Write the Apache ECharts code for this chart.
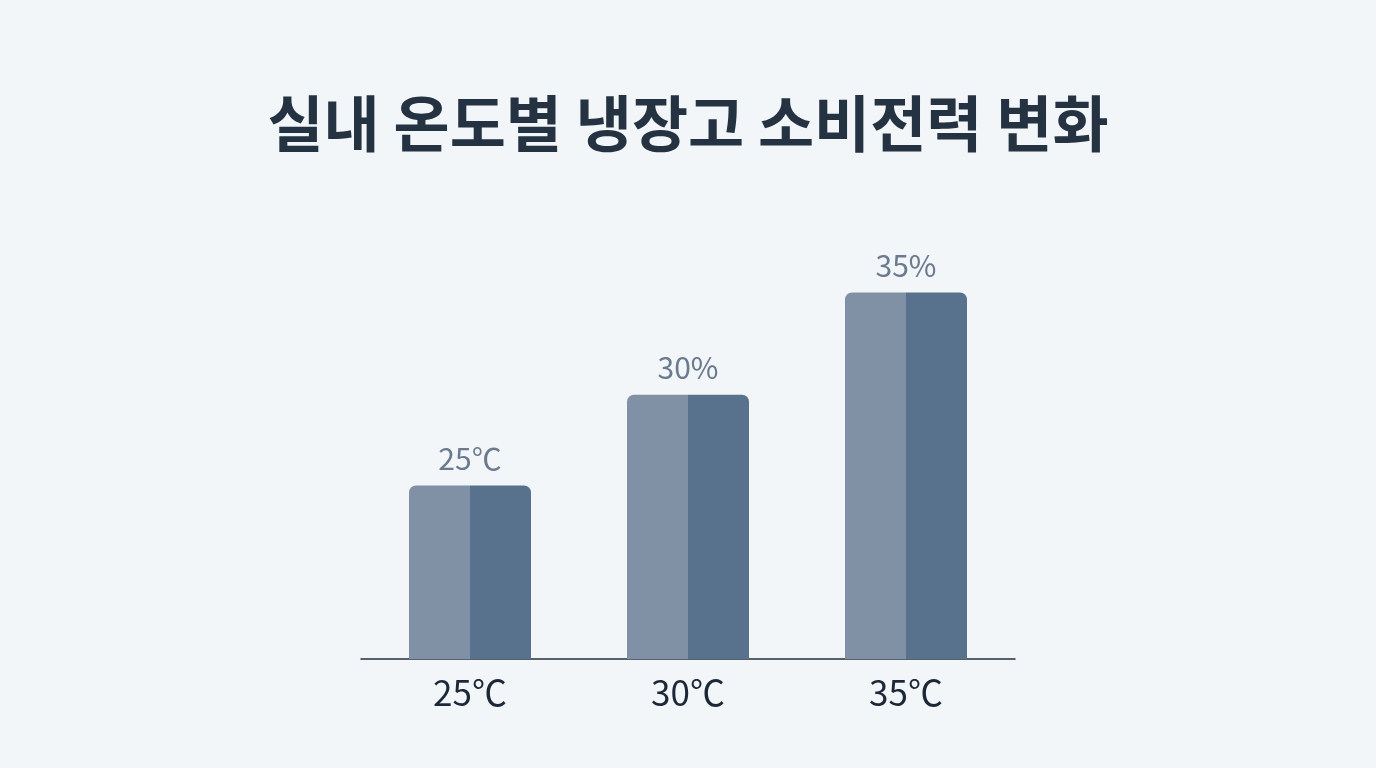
<!DOCTYPE html>
<html>
<head>
<meta charset="utf-8">
<script src="https://cdn.jsdelivr.net/npm/echarts@6/dist/echarts.min.js"></script>
<style>
  html, body { margin: 0; padding: 0; background: #f2f6f8; }
  #chart { width: 1376px; height: 768px; }
</style>
</head>
<body>
<div id="chart"></div>
<script>
// 실내 온도별 냉장고 소비전력
var categories = ['25℃', '30℃', '35℃'];
var values = [25, 29.7, 35];
var barLabels = ['25℃', '30%', '35%'];

var chart = echarts.init(document.getElementById('chart'));

// 막대 왼쪽 밝게, 오른쪽 어둡게
var twoTone = new echarts.graphic.LinearGradient(0, 0, 1, 0, [
  { offset: 0, color: '#8091a6' },
  { offset: 0.5, color: '#8091a6' },
  { offset: 0.5, color: '#58728e' },
  { offset: 1, color: '#58728e' }
]);

var option = {
  backgroundColor: '#f2f6f8',
  title: {
    text: '실내 온도별 냉장고 소비전력 변화',
    left: 'center',
    top: 88,
    textStyle: {
      fontFamily: 'Noto Sans CJK KR',
      fontSize: 61,
      fontWeight: 'bold',
      color: '#253241'
    }
  },
  grid: {
    left: 361,
    width: 654,
    top: 196,
    bottom: 109
  },
  xAxis: {
    type: 'category',
    data: categories,
    axisTick: { show: false },
    axisLine: { lineStyle: { color: '#262f3c', width: 1.5 } },
    axisLabel: {
      margin: 16,
      fontFamily: 'Noto Sans CJK KR',
      fontSize: 35,
      color: '#1c2838'
    }
  },
  yAxis: {
    type: 'value',
    min: 16,
    max: 40,
    show: false,
    splitLine: { show: false }
  },
  series: [{
    type: 'bar',
    data: values,
    barWidth: 122,
    itemStyle: {
      color: twoTone,
      borderRadius: [7, 7, 0, 0]
    },
    label: {
      show: true,
      position: 'top',
      distance: 12,
      fontFamily: 'Noto Sans CJK KR',
      fontSize: 30,
      color: '#6b7a8f',
      formatter: function (p) { return barLabels[p.dataIndex]; }
    }
  }]
};
chart.setOption(option);
</script>
</body>
</html>
